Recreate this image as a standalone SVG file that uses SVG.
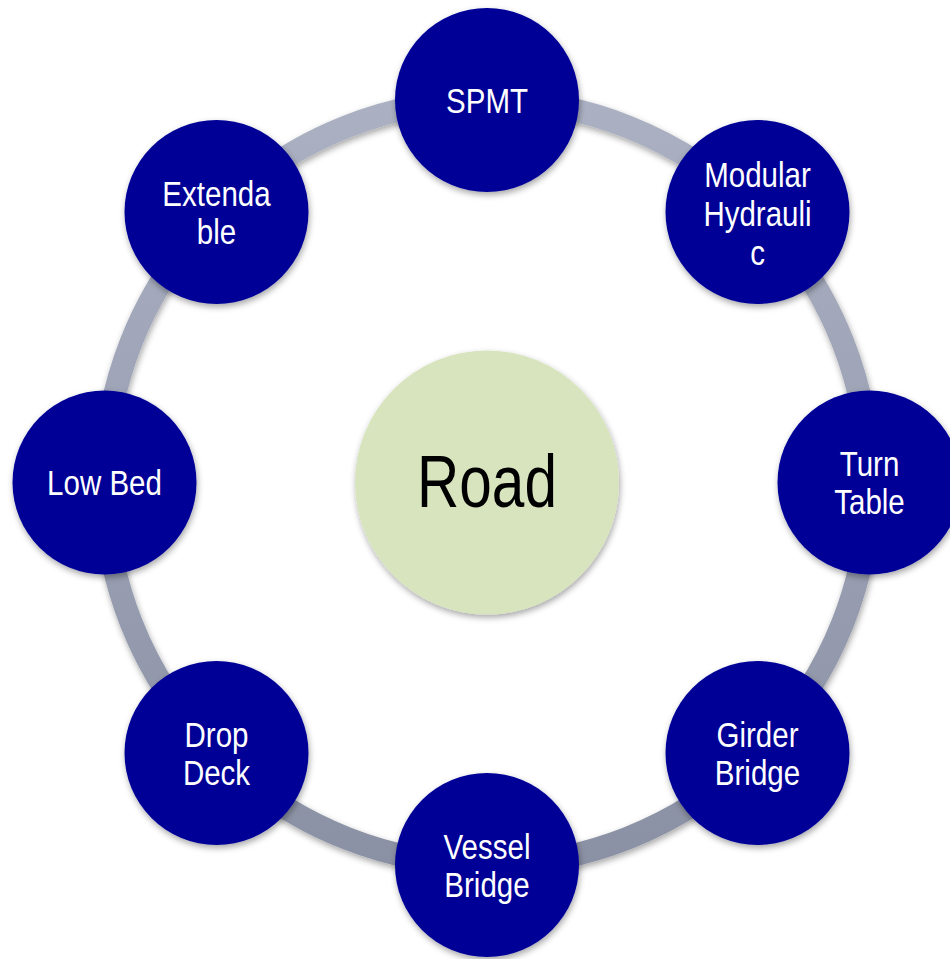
<svg xmlns="http://www.w3.org/2000/svg" width="950" height="959" viewBox="0 0 950 959">
<defs>
<linearGradient id="ringGrad" x1="0" y1="0" x2="0" y2="1">
<stop offset="0" stop-color="#abb1c3"/>
<stop offset="1" stop-color="#8b91a4"/>
</linearGradient>
<filter id="shadow" x="-20%" y="-20%" width="140%" height="140%">
<feDropShadow dx="1" dy="3" stdDeviation="3" flood-color="#000" flood-opacity="0.35"/>
</filter>
<style>
.node circle{fill:#000096;filter:url(#shadow);}
.node text{fill:#fff;font-family:"Liberation Sans",Arial,sans-serif;font-size:36px;text-anchor:middle;}
.hub circle{fill:#d7e4bd;filter:url(#shadow);}
.hub text{fill:#000;font-family:"Liberation Sans",Arial,sans-serif;font-size:75px;text-anchor:middle;}
</style>
</defs>
<rect width="950" height="959" fill="#fff"/>
<g id="connectors">
<circle cx="487" cy="482.5" r="382.5" fill="none" stroke="url(#ringGrad)" stroke-width="23" filter="url(#shadow)"/>
</g>
<g id="road" class="hub">
<circle cx="487" cy="482.5" r="132"/>
<text transform="translate(487,507) scale(0.78,1)">Road</text>
</g>
<g id="spmt" class="node">
<circle cx="487" cy="100" r="92"/>
<text transform="translate(487,113) scale(0.82,1)">SPMT</text>
</g>
<g id="modular" class="node">
<circle cx="757.5" cy="212" r="92"/>
<text transform="translate(757.5,187) scale(0.82,1)">Modular</text>
<text transform="translate(757.5,226) scale(0.82,1)">Hydrauli</text>
<text transform="translate(757.5,265) scale(0.82,1)">c</text>
</g>
<g id="turntable" class="node">
<circle cx="869.5" cy="482.5" r="92"/>
<text transform="translate(869.5,476) scale(0.82,1)">Turn</text>
<text transform="translate(869.5,514) scale(0.82,1)">Table</text>
</g>
<g id="girder" class="node">
<circle cx="757.5" cy="753" r="92"/>
<text transform="translate(757.5,747) scale(0.82,1)">Girder</text>
<text transform="translate(757.5,785) scale(0.82,1)">Bridge</text>
</g>
<g id="vessel" class="node">
<circle cx="487" cy="865" r="92"/>
<text transform="translate(487,859) scale(0.82,1)">Vessel</text>
<text transform="translate(487,897) scale(0.82,1)">Bridge</text>
</g>
<g id="dropdeck" class="node">
<circle cx="216.5" cy="753" r="92"/>
<text transform="translate(216.5,747) scale(0.82,1)">Drop</text>
<text transform="translate(216.5,785) scale(0.82,1)">Deck</text>
</g>
<g id="lowbed" class="node">
<circle cx="104.5" cy="482.5" r="92"/>
<text transform="translate(104.5,495) scale(0.82,1)">Low Bed</text>
</g>
<g id="extendable" class="node">
<circle cx="216.5" cy="212" r="92"/>
<text transform="translate(216.5,206) scale(0.82,1)">Extenda</text>
<text transform="translate(216.5,244) scale(0.82,1)">ble</text>
</g>
</svg>
